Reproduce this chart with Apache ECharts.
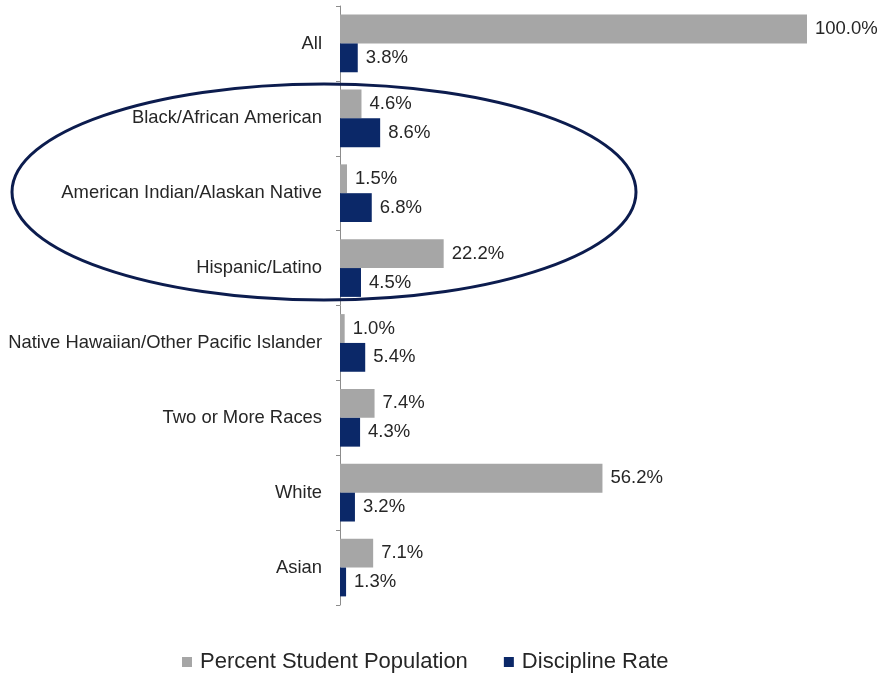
<!DOCTYPE html>
<html>
<head>
<meta charset="utf-8">
<script src="https://cdn.jsdelivr.net/npm/echarts@6/dist/echarts.min.js"></script>
<style>
  html, body { margin: 0; padding: 0; background: #ffffff; }
  #chart { width: 878px; height: 673px; }
</style>
</head>
<body>
<div id="chart"></div>
<script>
// Student groups, listed top to bottom
const categories = [
  'All',
  'Black/African American',
  'American Indian/Alaskan Native',
  'Hispanic/Latino',
  'Native Hawaiian/Other Pacific Islander',
  'Two or More Races',
  'White',
  'Asian'
];
const populationPct = [100.0, 4.6, 1.5, 22.2, 1.0, 7.4, 56.2, 7.1];
const disciplinePct = [3.8, 8.6, 6.8, 4.5, 5.4, 4.3, 3.2, 1.3];
const seriesNames = ['Percent Student Population', 'Discipline Rate'];

const textColor = '#262626';
const fontFamily = 'Liberation Sans, Arial, sans-serif';

const valueLabel = {
  show: true,
  position: 'right',
  distance: 8,
  color: textColor,
  fontSize: 18.5,
  fontFamily: fontFamily,
  formatter: p => p.value.toFixed(1) + '%'
};

const chart = echarts.init(document.getElementById('chart'), null, { renderer: 'canvas' });

chart.setOption({
  backgroundColor: '#ffffff',
  animation: false,
  grid: { left: 340, right: 71, top: 6, bottom: 68, containLabel: false },
  xAxis: {
    type: 'value',
    min: 0,
    max: 100,
    show: false
  },
  yAxis: {
    type: 'category',
    inverse: true,
    data: categories,
    axisLine: { show: true, lineStyle: { color: '#8c8c8c', width: 1 } },
    axisTick: { show: true, length: 4, lineStyle: { color: '#8c8c8c' } },
    axisLabel: { margin: 18, color: textColor, fontSize: 18.4, fontFamily: fontFamily },
    splitLine: { show: false }
  },
  legend: {
    data: seriesNames,
    left: 177,
    top: 646,
    icon: 'rect',
    itemWidth: 10,
    itemHeight: 10,
    itemGap: 36,
    textStyle: { color: textColor, fontSize: 22, fontFamily: fontFamily, padding: [0, 0, 0, 3] }
  },
  series: [
    {
      name: seriesNames[0],
      type: 'bar',
      data: populationPct,
      itemStyle: { color: '#a6a6a6' },
      barGap: '0%',
      barCategoryGap: '23%',
      label: valueLabel
    },
    {
      name: seriesNames[1],
      type: 'bar',
      data: disciplinePct,
      itemStyle: { color: '#0b2868' },
      barGap: '0%',
      barCategoryGap: '23%',
      label: valueLabel
    }
  ],
  graphic: [
    {
      // Outline around the three highlighted groups
      type: 'ellipse',
      shape: { cx: 324, cy: 192, rx: 312, ry: 108 },
      style: { fill: 'none', stroke: '#0c1c4e', lineWidth: 3 },
      z: 100,
      silent: true
    }
  ]
});
</script>
</body>
</html>
